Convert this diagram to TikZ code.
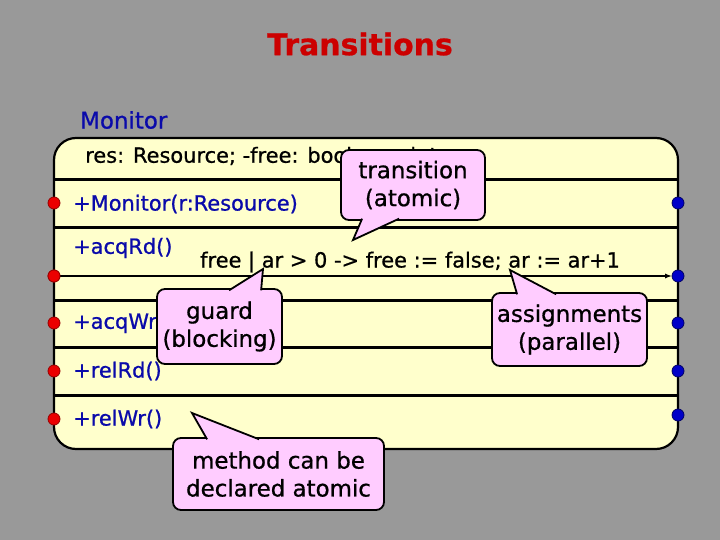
\documentclass[tikz,border=0pt]{standalone}
\usepackage{fontspec}
\setmainfont{DejaVu Sans}[FakeBold=0.8]
\usepackage{tikz}
\definecolor{slidegray}{RGB}{153,153,153}
\definecolor{classyellow}{RGB}{255,255,204}
\definecolor{notepink}{RGB}{255,204,255}
\definecolor{titlered}{RGB}{204,0,0}
\definecolor{opblue}{RGB}{10,10,170}
\definecolor{portred}{RGB}{235,0,0}
\definecolor{portblue}{RGB}{0,0,200}

\begin{document}
\begin{tikzpicture}[x=1bp, y=-1bp,
		classbox/.style={draw, line width=2.2bp, fill=classyellow, rounded corners=22bp, minimum width=624bp, minimum height=311bp},
		sepline/.style={line width=3bp},
		optext/.style={anchor=west, text=opblue, font=\fontsize{21}{25}\selectfont, inner sep=0pt},
		codetext/.style={anchor=west, font=\fontsize{21}{25}\selectfont, inner sep=0pt},
		inport/.style={circle, draw=red!60!black, line width=0.8bp, fill=portred, minimum size=12bp, inner sep=0pt},
		outport/.style={circle, draw=blue!40!black, line width=0.8bp, fill=portblue, minimum size=12bp, inner sep=0pt},
		bubble/.style={draw, line width=1.8bp, fill=notepink, rounded corners=8bp, align=center, font=\fontsize{23}{28}\selectfont},
		bubbletail/.style={draw, line width=1.8bp, fill=notepink, line join=miter}
	]
		\fill[slidegray] (0,0) rectangle (720,540);
		\useasboundingbox (0,0) rectangle (720,540);

		\node[text=titlered, font=\bfseries\fontsize{30}{36}\selectfont] (title) at (360,44) {Transitions};
		\node[anchor=west, text=opblue, font=\fontsize{23}{28}\selectfont, inner sep=0pt] (classname) at (80,120) {Monitor};

		\node[classbox] (monitor) at (366,293.5) {};

		\draw[sepline] (54,180) -- (678,180);
		\draw[sepline] (54,228) -- (678,228);
		\draw[sepline] (54,300) -- (678,300);
		\draw[sepline] (54,347) -- (678,347);
		\draw[sepline] (54,395) -- (678,395);

		\node[codetext] (attrs) at (85,156) {res: Resource; -free: bool; -ar: int};
		\node[optext] (opmon) at (73,204) {+Monitor(r:Resource)};
		\node[optext] (opacqrd) at (73,248) {+acqRd()};
		\node[optext] (opacqwr) at (73,323) {+acqWr()};
		\node[optext] (oprelrd) at (73,371) {+relRd()};
		\node[optext] (oprelwr) at (73,419) {+relWr()};
		\node[codetext] (trans) at (200,262) {free | ar > 0 -> free := false; ar := ar+1};

		\node[inport] (inmon) at (54,203) {};
		\node[inport] (inacqrd) at (54,276) {};
		\node[inport] (inacqwr) at (54,323) {};
		\node[inport] (inrelrd) at (54,371) {};
		\node[inport] (inrelwr) at (54,419) {};

		\node[outport] (outmon) at (678,203) {};
		\node[outport] (outacqrd) at (678,276) {};
		\node[outport] (outacqwr) at (678,323) {};
		\node[outport] (outrelrd) at (678,371) {};
		\node[outport] (outrelwr) at (678,415) {};

		\draw[-latex, line width=1.2bp] (inacqrd) -- (outacqrd);
		\node[inport] at (inacqrd) {};

		% notes
		\coordinate (atomictip) at (353,240);
		\coordinate (guardtip) at (263,269);
		\coordinate (assigntip) at (510,270);
		\coordinate (methodtip) at (192,413);

		\node[bubble, minimum width=144bp, minimum height=70bp] (noteatomic) at (413,185) {transition\\(atomic)};
		\draw[bubbletail] ([xshift=22bp, yshift=2.2bp]noteatomic.south west) -- (atomictip) -- ([xshift=59bp, yshift=2.2bp]noteatomic.south west);

		\node[bubble, minimum width=125bp, minimum height=75bp] (noteguard) at (219.5,326.5) {guard\\(blocking)};
		\draw[bubbletail] ([xshift=73bp, yshift=-2.2bp]noteguard.north west) -- (guardtip) -- ([xshift=105bp, yshift=-2.2bp]noteguard.north west);

		\node[bubble, minimum width=155bp, minimum height=73bp] (noteassign) at (569.5,329.5) {assignments\\(parallel)};
		\draw[bubbletail] ([xshift=26bp, yshift=-2.2bp]noteassign.north west) -- (assigntip) -- ([xshift=65bp, yshift=-2.2bp]noteassign.north west);

		\node[bubble, minimum width=211bp, minimum height=72bp] (notemethod) at (278.5,474) {method can be\\declared atomic};
		\draw[bubbletail] ([xshift=35bp, yshift=-2.2bp]notemethod.north west) -- (methodtip) -- ([xshift=87bp, yshift=-2.2bp]notemethod.north west);

	\end{tikzpicture}
\end{document}
